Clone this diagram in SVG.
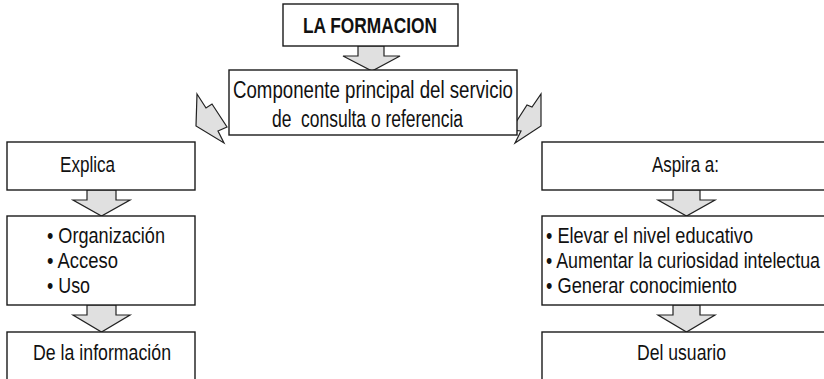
<svg xmlns="http://www.w3.org/2000/svg" width="824" height="379" viewBox="0 0 824 379">
<style>
.box{fill:#fff;stroke:#1a1a1a;stroke-width:1.4}
.arr{fill:#e0e0e0;stroke:#222;stroke-width:1.2;stroke-linejoin:miter}
text{font-family:"Liberation Sans",Arial,sans-serif;font-size:22px;fill:#111}
.b{font-weight:bold}
.big{font-size:23.5px}
</style>
<rect width="824" height="379" fill="#fff"/>
<g id="connectors">
<polygon class="arr" points="358,46 384,46 384,56 400,56 372,71 343,56 358,56"/>
<polygon class="arr" points="197,94 206,108 212,104 227,127 218,131 224,143 196,126"/>
<polygon class="arr" points="541,94 541,126 515,143 521,131 511,130 527,105 532,107"/>
<polygon class="arr" points="87,190 116,190 116,200 130,200 101.5,216 73,200 87,200"/>
<polygon class="arr" points="87,305 116,305 116,315 130,315 101.5,332 73,315 87,315"/>
<polygon class="arr" points="673,190 700,190 700,200 715,200 686.5,216 658,200 673,200"/>
<polygon class="arr" points="673,305 700,305 700,315 715,315 686.5,332 658,315 673,315"/>
</g>
<g id="n-formacion">
<rect class="box" x="283" y="4" width="175" height="42"/>
<text class="b" x="303" y="33" textLength="134" lengthAdjust="spacingAndGlyphs">LA FORMACION</text>
</g>
<g id="n-componente">
<rect class="box" x="229" y="70" width="288" height="65"/>
<text class="big" x="233" y="98" textLength="280" lengthAdjust="spacingAndGlyphs">Componente principal del servicio</text>
<text class="big" x="272" y="127" textLength="191" lengthAdjust="spacingAndGlyphs" xml:space="preserve">de  consulta o referencia</text>
</g>
<g id="n-explica">
<rect class="box" x="7" y="142" width="188" height="48"/>
<text x="60" y="172" textLength="55" lengthAdjust="spacingAndGlyphs">Explica</text>
</g>
<g id="n-items-left">
<rect class="box" x="7" y="216" width="188" height="89"/>
<text x="47" y="243" textLength="118" lengthAdjust="spacingAndGlyphs">• Organización</text>
<text x="47" y="268" textLength="71" lengthAdjust="spacingAndGlyphs">• Acceso</text>
<text x="47" y="293" textLength="43" lengthAdjust="spacingAndGlyphs">• Uso</text>
</g>
<g id="n-informacion">
<rect class="box" x="7" y="332" width="188" height="60"/>
<text x="33" y="360" textLength="138" lengthAdjust="spacingAndGlyphs">De la información</text>
</g>
<g id="n-aspira">
<rect class="box" x="542" y="142" width="290" height="48"/>
<text x="652" y="172" textLength="67" lengthAdjust="spacingAndGlyphs">Aspira a:</text>
</g>
<g id="n-items-right">
<rect class="box" x="542" y="216" width="290" height="89"/>
<text x="546" y="243" textLength="207" lengthAdjust="spacingAndGlyphs">• Elevar el nivel educativo</text>
<text x="546" y="268" textLength="274" lengthAdjust="spacingAndGlyphs">• Aumentar la curiosidad intelectua</text>
<text x="546" y="293" textLength="191" lengthAdjust="spacingAndGlyphs">• Generar conocimiento</text>
</g>
<g id="n-usuario">
<rect class="box" x="542" y="332" width="290" height="60"/>
<text x="637" y="360" textLength="89" lengthAdjust="spacingAndGlyphs">Del usuario</text>
</g>
</svg>
